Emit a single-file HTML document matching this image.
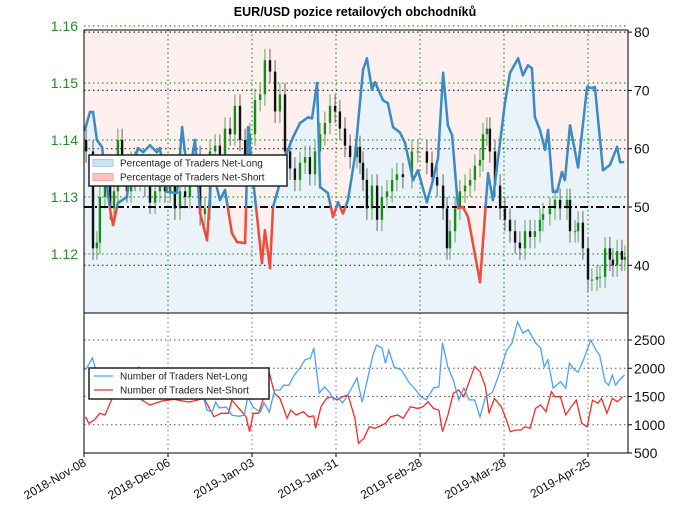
<!DOCTYPE html>
<html><head><meta charset="utf-8"><style>
body{margin:0;background:#fff}
svg{display:block;font-family:"Liberation Sans",sans-serif}
</style></head><body>
<svg id="chart" width="680" height="519" viewBox="0 0 680 519">
<text x="355" y="16" text-anchor="middle" font-size="12.5" font-weight="bold">EUR/USD pozice retailových obchodníků</text>
<g id="g"></g>
</svg>
<script>
// ---- data ----
const pctDay=[0.3,2,3,4.3,6,8.7,9.7,11.3,14.3,15.3,18,19.7,22,24.3,25.3,27.7,31,32.7,34.7,37,38.7,41,42.7,43.7,45.3,47,49.3,51,53.7,54.7,56.3,59.3,60.3,62,63,65.3,67,68,69.7,72,74.7,76,77.7,78.7,81.3,83,84.7,86.3,88,90.3,93,94.3,96,97,99.7,101.3,103,105.3,107,109.7,111.3,114.3,116.3,118,119.7,121.3,122.7,124.7,126.3,128,132,134.7,136.3,140.3,142,144.7,146.3,148,149.3,150.3,152,153.7,154.7,156.3,157.7,159.3,160.3,162,164.7,167.7,169.3,170.3,173,175.3,177.7,178.7,179.7];
const pctLong=[63.2,66.3,66.3,61.5,60.3,49.5,46.9,50.7,51.7,55.8,60.1,59.4,60.6,59.4,60.1,52.6,52.4,63.7,54.6,61.5,49.0,44.3,57.5,54.6,51.2,52.9,45.5,44.0,43.8,63.7,55.1,40.4,46.0,39.5,50.0,54.1,58.6,59.8,62.0,64.4,65.4,65.2,71.3,53.4,52.4,48.3,50.8,48.9,51.2,58.6,73.5,75.5,70.1,71.4,68.3,67.8,63.7,62.8,61.0,54.6,56.3,50.8,54.6,58.4,73.0,64.0,62.3,49.8,50.0,48.3,37.1,55.8,51.2,67.8,73.0,75.5,72.6,74.3,73.8,65.4,63.2,59.8,63.2,52.6,52.6,56.0,54.6,64.0,56.8,70.6,70.4,70.6,56.3,57.2,60.3,57.7,57.7];
const candleDay=[0.7,3,4.3,5.3,7,8.7,10,11.3,12.7,14.3,15.7,17,18.7,20.3,22,23.7,25.3,27,28.7,30.3,32,33.7,35.3,37,38.7,40.3,42,43.7,45.3,47,48.7,50.3,52,53.7,55.3,57,58.7,60.3,62,63.7,65.3,67,68.7,70.3,72,73.7,75.3,77,78.7,80.3,82,83.7,85.3,87,88.7,91,92,93,94.3,96,97.7,99.3,101,102.7,104.3,106.3,109.3,111.3,114.3,116,117.7,119.7,121,122,123.7,125.3,127,128.7,130.3,132,133,134.3,135.3,137,138.7,140.3,142,143.7,145.3,147,148.7,150.3,152,153,155.3,157,158.7,161,162,163.7,164.7,166.3,168,169.3,171,172,173.7,175.3,176.3,177.7,179.3,180.3];
const candleClose=[1.138,1.121,1.122,1.130,1.133,1.128,1.131,1.140,1.134,1.131,1.136,1.133,1.135,1.132,1.129,1.131,1.134,1.131,1.133,1.128,1.131,1.130,1.134,1.137,1.127,1.128,1.138,1.139,1.136,1.142,1.141,1.146,1.140,1.137,1.141,1.147,1.148,1.154,1.152,1.145,1.148,1.138,1.135,1.133,1.136,1.137,1.134,1.138,1.141,1.143,1.146,1.145,1.142,1.139,1.137,1.1388,1.136,1.133,1.128,1.132,1.126,1.130,1.131,1.133,1.134,1.1335,1.138,1.138,1.136,1.1335,1.132,1.128,1.121,1.124,1.128,1.131,1.132,1.133,1.1355,1.1365,1.141,1.142,1.138,1.132,1.128,1.126,1.124,1.122,1.121,1.124,1.123,1.124,1.126,1.127,1.128,1.1295,1.128,1.1295,1.124,1.124,1.1255,1.121,1.1155,1.1155,1.116,1.116,1.121,1.119,1.118,1.1205,1.119,1.1195];
const longDay=[0.5,2.8,4,8,12,18.3,24,30,35,39.1,41,42.7,43.9,45,47.5,49.3,51.6,53.4,54.6,56.4,58.8,60,61.8,63.5,65.3,66.5,68.3,70.1,71.9,73.7,75.5,76.6,78.4,80.2,82,83.2,84.4,86.2,88,91,92.7,93.9,96.3,97.5,99.3,100.5,101.6,103.4,105.8,108.2,110.6,112.4,114.1,116.5,118.3,119.5,121.3,123.1,124.9,126.6,128.4,130.2,132,133.8,136.2,138.5,140.9,142.7,144.5,146.3,148.1,150.5,152.2,153.4,154.6,156.4,158.8,160.6,161.8,163.5,164.7,166.5,168.9,170.7,171.9,173.7,174.9,176.1,177.2,178.4,180.2];
const longCount=[1970,2180,1970,1900,1850,2020,1800,1750,1700,1610,1260,1225,1400,1300,1310,1170,1150,1170,1490,1310,1225,1385,1225,1615,1615,1700,1700,1880,2000,2150,2180,2360,1560,1670,1560,1440,1490,1385,1530,1830,1400,1670,2230,2410,2360,2090,2320,2020,1970,1760,1615,1490,1440,1650,1670,2450,2020,1790,1440,1650,1440,1440,1140,1490,1580,1915,2320,2450,2820,2620,2680,2450,2360,2020,2150,1650,1760,1650,2090,1970,1930,2150,2500,2320,2230,1760,1700,1880,1700,1790,1880];
const shortDay=[0.5,1.6,3.4,5.2,7,8.2,10,14,18,22,26,30,35,40,43.3,45.7,48.1,49.3,54,55.2,56.4,58.2,60,61.8,63.5,65.3,67.7,68.9,70.7,73.1,74.9,76.6,77.2,79,80.8,82.6,84.4,86.2,88,90.3,91.5,93.3,95.1,96.9,98.7,100.5,102.2,104.6,106.4,108.8,111.2,113,114.7,116.5,118.3,119.5,121.3,123.1,124.9,126.6,128.4,130.2,132,133.8,135,136.8,139.1,141,142.1,143.9,145.7,146.9,148.7,150.5,152.2,154,155.8,157,158.8,160.6,162.4,164.1,165.9,167.7,169.5,171.3,172.5,174.3,176.1,177.8,179.6];
const shortCount=[1143,1025,1084,1203,1173,1320,1550,1450,1480,1350,1420,1450,1400,1467,1143,1203,1203,1437,1143,877,1203,1203,1497,1910,1557,1467,1114,1260,1173,1232,1143,1155,937,1320,1467,1497,1437,1497,1527,1114,672,760,966,937,978,1025,1143,1173,1114,1320,1290,1320,1408,1290,1260,877,1173,1557,1615,1497,1762,2027,1939,1674,1203,1467,1320,1055,877,907,907,966,937,1290,1350,1232,1586,1497,1497,1173,1320,1437,1025,966,1437,1380,1467,1203,1467,1408,1497];
const priceTicks=[1.12,1.13,1.14,1.15,1.16];
const pctTicks=[40,50,60,70,80];
const countTicks=[500,1000,1500,2000,2500];
const dateTicks=["2018-Nov-08","2018-Dec-06","2019-Jan-03","2019-Jan-31","2019-Feb-28","2019-Mar-28","2019-Apr-25"];
const dateTickDay=[0,28,56,84,112,140,168];

// ---- axes ----
const L=84,R=628,T1=30,B1=313,B2=453;
const xS=d=>L+d*3;
const yP=p=>197-(p-1.13)*5700;
const yPct=v=>207-(v-50)*5.83;
const yC=v=>453-(v-500)*0.0565;
const NS="http://www.w3.org/2000/svg";
const g=document.getElementById('g');
function mk(tag,attrs,parent){const e=document.createElementNS(NS,tag);for(const k in attrs)e.setAttribute(k,attrs[k]);(parent||g).appendChild(e);return e;}

// backgrounds
let bg=mk('rect',{x:L,y:T1,width:R-L,height:B1-T1,fill:'#fdf0ef'});


let fp='M'+xS(pctDay[0])+','+B1;
pctDay.forEach((d,i)=>fp+=' L'+xS(d).toFixed(1)+','+yPct(pctLong[i]).toFixed(1));
fp+=' L'+xS(pctDay[pctDay.length-1])+','+B1+' Z';
let fa=mk('path',{d:fp,fill:'#ebf3fa'});



// grids
dateTickDay.forEach((d,i)=>{if(i===0)return;
 let v=mk('line',{x1:xS(d),x2:xS(d),y1:T1,y2:B1,stroke:'#2a9a2a','stroke-width':1.2,'stroke-dasharray':'1.5,3'});
 
 
 let v2=mk('line',{x1:xS(d),x2:xS(d),y1:B1,y2:B2,stroke:'#777','stroke-width':1,'stroke-dasharray':'1.5,3'});
 
 
});
priceTicks.forEach(p=>{let l=mk('line',{x1:L,x2:R,y1:yP(p),y2:yP(p),stroke:'#2a9a2a','stroke-width':1.2,'stroke-dasharray':'1.5,3'});
 
 });
pctTicks.forEach(p=>{if(p===50)return;let l=mk('line',{x1:L,x2:R,y1:yPct(p),y2:yPct(p),stroke:'#333','stroke-width':1.2,'stroke-dasharray':'1.5,3'});
 
 });
countTicks.forEach(c=>{if(c===500)return;let l=mk('line',{x1:L,x2:R,y1:yC(c),y2:yC(c),stroke:'#555','stroke-width':1,'stroke-dasharray':'1.5,3'});
 
 });

// candles
candleDay.forEach((d,i)=>{
 const c=candleClose[i], o=i>0?candleClose[i-1]:c+0.002;
 const up=c>=o, col=up?'#1a8a1a':'#111';
 const x=xS(d);
 let w=mk('line',{x1:x,x2:x,y1:yP(Math.max(o,c)+0.002),y2:yP(Math.min(o,c)-0.002),stroke:up?'#5aa55a':'#666','stroke-width':1});
 
 
 let b=mk('rect',{x:x-1.2,y:yP(Math.max(o,c)),width:2.4,height:Math.max(1,Math.abs(yP(o)-yP(c))),fill:col});
 
 
});

// 50 line
let fl=mk('line',{x1:L,x2:R,y1:yPct(50),y2:yPct(50),stroke:'#000','stroke-width':2,'stroke-dasharray':'8,3,2,3'});



// pct line colored segments
for(let i=0;i<pctDay.length-1;i++){
 let x1=xS(pctDay[i]),y1=yPct(pctLong[i]),x2=xS(pctDay[i+1]),y2=yPct(pctLong[i+1]);
 let a=pctLong[i],b=pctLong[i+1];
 const seg=(xa,ya,xb,yb,v)=>{let s=mk('line',{x1:xa,y1:ya,x2:xb,y2:yb,stroke:v>=50?'#3a8ac6':'#f04a3a','stroke-width':2.5,'stroke-linecap':'round'});
  
  };
 if((a>=50)===(b>=50)) seg(x1,y1,x2,y2,a);
 else{const t=(50-a)/(b-a),xm=x1+t*(x2-x1),ym=yPct(50);seg(x1,y1,xm,ym,a);seg(xm,ym,x2,y2,b);}
}

// counts
function poly(days,vals,col,name){let p='';days.forEach((d,i)=>p+=(i?' L':'M')+xS(d).toFixed(1)+','+yC(vals[i]).toFixed(1));
 let e=mk('path',{d:p,fill:'none',stroke:col,'stroke-width':1.3});
 
 }
poly(shortDay,shortCount,'#f52b2b','net-short-count-line');
poly(longDay,longCount,'#48a2ff','net-long-count-line');

// frames
let f1=mk('rect',{x:L,y:T1,width:R-L,height:B1-T1,fill:'none',stroke:'#000','stroke-width':1});


let f2=mk('rect',{x:L,y:B1,width:R-L,height:B2-B1,fill:'none',stroke:'#000','stroke-width':1});



// tick labels
priceTicks.forEach(p=>{let t=mk('text',{x:78,y:yP(p)+5,'text-anchor':'end','font-size':14,fill:'#2a8a2a'});t.textContent=p.toFixed(2);
 
 });
pctTicks.forEach(p=>{let t=mk('text',{x:634,y:yPct(p)+5,'font-size':14,fill:'#111'});t.textContent=p;
 
 
 mk('line',{x1:R,x2:R+4,y1:yPct(p),y2:yPct(p),stroke:'#000'});});
countTicks.forEach(c=>{let t=mk('text',{x:634,y:yC(c)+5,'font-size':14,fill:'#111'});t.textContent=c;
 
 
 mk('line',{x1:R,x2:R+4,y1:yC(c),y2:yC(c),stroke:'#000'});});
dateTicks.forEach((s,i)=>{const x=xS(dateTickDay[i]);
 mk('line',{x1:x,x2:x,y1:B2,y2:B2+4,stroke:'#000'});
 let t=mk('text',{x:x+3,y:B2+12,'text-anchor':'end','font-size':12,fill:'#111',transform:`rotate(-30 ${x+3} ${B2+12})`});t.textContent=s;
 
 });

// legends
function legend(x,y,w,items,name,lw){
 let gg=mk('g',{});
 
 
 mk('rect',{x:x,y:y,width:w,height:31,fill:'#fff',stroke:'#222','stroke-width':1.5},gg);
 items.forEach((it,i)=>{const yy=y+8+i*14;
  if(lw) mk('line',{x1:x+5,x2:x+24,y1:yy,y2:yy,stroke:it[1],'stroke-width':1.3},gg);
  else mk('rect',{x:x+4,y:yy-3.5,width:20,height:7,fill:it[1],stroke:it[2]},gg);
  let t=mk('text',{x:x+31,y:yy+3.5,'font-size':10,fill:'#222'},gg);t.textContent=it[0];
  
  });
}
legend(89,155,198,[['Percentage of Traders Net-Long','#cfe3f7','#a8cdf0'],['Percentage of Traders Net-Short','#fbc4c0','#f5a5a0']],'pct-legend',false);
legend(89,368,180,[['Number of Traders Net-Long','#48a2ff'],['Number of Traders Net-Short','#f52b2b']],'count-legend',true);
</script>
</body></html>
